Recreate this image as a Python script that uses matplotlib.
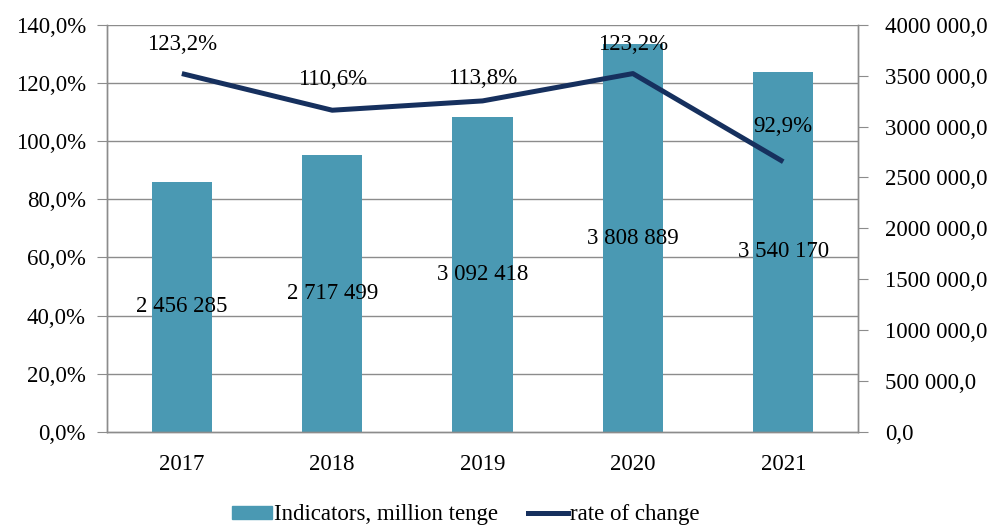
import matplotlib.pyplot as plt
import numpy as np
from matplotlib.ticker import FuncFormatter, MultipleLocator
from matplotlib.lines import Line2D
from matplotlib.patches import Patch

plt.rcParams['font.family'] = ['Liberation Serif', 'DejaVu Serif']

years = ["2017", "2018", "2019", "2020", "2021"]
indicators = [2456285, 2717499, 3092418, 3808889, 3540170]
rate = [123.2, 110.6, 113.8, 123.2, 92.9]

bar_color = "#4A99B3"
line_color = "#16305E"
grid_color = "#8C8C8C"
fs = 16.5

fig = plt.figure(figsize=(9.97, 5.26), dpi=100)
ax = fig.add_axes([0.107, 0.179, 0.754, 0.774])
ax2 = ax.twinx()

x = np.arange(len(years))

# bars on the right-hand axis, line on the left-hand one
ax2.bar(x, indicators, width=0.4, color=bar_color, zorder=2)
ax.plot(x, rate, color=line_color, lw=3.6, zorder=5, solid_capstyle='butt')

ax.set_ylim(0, 140)
ax2.set_ylim(0, 4000000)
ax.set_xlim(-0.5, len(years) - 0.5)
ax.yaxis.set_major_locator(MultipleLocator(20))
ax2.yaxis.set_major_locator(MultipleLocator(500000))

ax.yaxis.set_major_formatter(FuncFormatter(lambda v, p: f"{v:.1f}%".replace(".", ",")))

def money(v, p):
    v = int(round(v))
    if v >= 1000:
        return f"{v // 1000} {v % 1000:03d},0"
    return f"{v},0"

ax2.yaxis.set_major_formatter(FuncFormatter(money))

ax.set_xticks(x)
ax.set_xticklabels(years)
ax.tick_params(axis='x', length=0, pad=16, labelsize=fs)
ax.tick_params(axis='y', length=7, color=grid_color, labelsize=fs, pad=8)
ax2.tick_params(axis='y', length=7, color=grid_color, labelsize=fs, pad=12)

# horizontal grid drawn on the twin so it sits behind the bars
for t in np.arange(20, 141, 20):
    ax2.axhline(t / 140 * 4000000, color=grid_color, lw=1, zorder=1)

ax2.set_zorder(1)
ax.set_zorder(2)
ax.patch.set_visible(False)

for a in (ax, ax2):
    a.spines['top'].set_visible(False)
    for s in ('left', 'right', 'bottom'):
        a.spines[s].set_color(grid_color)
        a.spines[s].set_linewidth(1)

for xi, v in zip(x, indicators):
    ax2.text(xi, v / 2, f"{v:,}".replace(",", " "), ha='center', va='center',
             fontsize=fs, zorder=6)

# label offsets above each point, in points
offsets = (21, 22, 16, 21, 25)
for xi, r, off in zip(x, rate, offsets):
    ax.annotate(f"{r:.1f}%".replace(".", ","), (xi, r), xytext=(0, off),
                textcoords='offset points', ha='center', va='center', fontsize=fs)

handles = [Patch(color=bar_color), Line2D([], [], color=line_color, lw=3.6)]
fig.legend(handles, ["Indicators, million tenge", "rate of change"], loc='lower center',
           bbox_to_anchor=(0.467, -0.038), ncol=2, frameon=False, fontsize=fs,
           handlelength=1.75, handleheight=0.5, handletextpad=0.1, columnspacing=1.3)

fig.savefig("out.png", dpi=100)
